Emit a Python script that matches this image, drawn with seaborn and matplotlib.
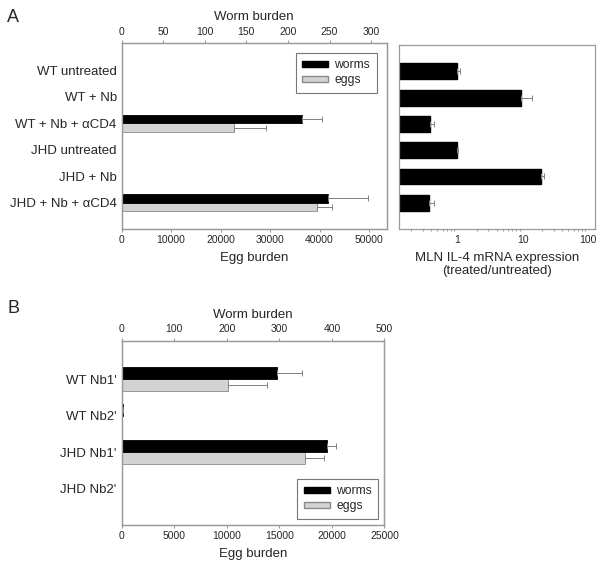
import numpy as np
import pandas as pd
import matplotlib
matplotlib.use("Agg")
import matplotlib.pyplot as plt
import seaborn as sns

# panel A data
groups_a = ["WT untreated", "WT + Nb", "WT + Nb + \u03b1CD4",
            "JHD untreated", "JHD + Nb", "JHD + Nb + \u03b1CD4"]
worms_a = [0, 0, 217, 0, 1, 248]
worms_a_err = [0, 0, 24, 0, 0, 48]
eggs_a = [0, 0, 22750, 0, 0, 39500]
eggs_a_err = [0, 0, 6350, 0, 0, 3000]
il4 = [1.0, 9.5, 0.39, 1.0, 19.2, 0.37]
il4_err = [0.12, 4.2, 0.06, 0.05, 1.9, 0.07]

# panel B data
groups_b = ["WT Nb1'", "WT Nb2'", "JHD Nb1'", "JHD Nb2'"]
worms_b = [296, 2, 391, 0]
worms_b_err = [47, 0, 16, 0]
eggs_b = [10080, 0, 17420, 0]
eggs_b_err = [3750, 0, 1800, 0]

sns.set_theme(style="white")
plt.rcParams["font.family"] = ["Liberation Sans", "DejaVu Sans"]

GRAY = "#9a9a9a"
EGG = "#d3d3d3"
ERR = "#808080"
PAL = {"worms": "black", "eggs": EGG}
ORDER = ["worms", "eggs"]


def style_axis(ax):
    for s in ax.spines.values():
        s.set_color(GRAY)
        s.set_linewidth(0.9)
    ax.tick_params(axis="both", which="both", direction="out", color=GRAY,
                   length=2.5, width=0.8, labelsize=7.5, pad=2)


def burden_panel(ax, groups, worms, worms_err, eggs, eggs_err, egg_max, worm_max,
                 egg_ticks, worm_ticks, legend_loc, legend_anchor):
    n = len(groups)
    # each axis gets both hue levels so the bars dodge; the other series is NaN
    df_e = pd.DataFrame({"group": groups * 2,
                         "value": [np.nan] * n + list(eggs),
                         "series": ["worms"] * n + ["eggs"] * n})
    df_w = pd.DataFrame({"group": groups * 2,
                         "value": list(worms) + [np.nan] * n,
                         "series": ["worms"] * n + ["eggs"] * n})
    axw = ax.twiny()
    sns.barplot(data=df_e, x="value", y="group", hue="series", hue_order=ORDER,
                order=groups, palette=PAL, orient="h", width=0.64, dodge=True,
                edgecolor="#8a8a8a", linewidth=0.6, ax=ax, legend=False, errorbar=None)
    sns.barplot(data=df_w, x="value", y="group", hue="series", hue_order=ORDER,
                order=groups, palette=PAL, orient="h", width=0.64, dodge=True,
                edgecolor="black", linewidth=0.6, ax=axw, legend=False, errorbar=None)
    pos = np.arange(n)
    ax.errorbar(eggs, pos + 0.16, xerr=[np.zeros(n), eggs_err], fmt="none",
                ecolor=ERR, elinewidth=0.7, capsize=2, capthick=0.7)
    axw.errorbar(worms, pos - 0.16, xerr=[np.zeros(n), worms_err], fmt="none",
                 ecolor=ERR, elinewidth=0.7, capsize=2, capthick=0.7)
    ax.set_xlim(0, egg_max)
    axw.set_xlim(0, worm_max)
    ax.set_xticks(egg_ticks)
    axw.set_xticks(worm_ticks)
    ax.set_ylim(n - 1 + 1.0, -1.05)
    axw.set_ylim(n - 1 + 1.0, -1.05)
    ax.set_ylabel("")
    axw.set_ylabel("")
    ax.set_xlabel("Egg burden", fontsize=9.5, labelpad=5)
    axw.set_xlabel("Worm burden", fontsize=9.5, labelpad=5)
    for a in (ax, axw):
        style_axis(a)
    ax.tick_params(axis="y", labelsize=9.5, length=1.5)
    h = [plt.Rectangle((0, 0), 1, 1, fc="black", ec="black"),
         plt.Rectangle((0, 0), 1, 1, fc=EGG, ec="#8a8a8a")]
    leg = axw.legend(h, ["worms", "eggs"], loc=legend_loc, bbox_to_anchor=legend_anchor,
                     fontsize=8.7, frameon=True, fancybox=False, edgecolor="#555555",
                     handlelength=2.15, handleheight=0.45, handletextpad=0.5,
                     borderpad=0.55, labelspacing=0.25, borderaxespad=0)
    leg.get_frame().set_linewidth(0.8)
    return axw


fig = plt.figure(figsize=(6.02, 5.71), dpi=100)
ax_a = fig.add_axes([0.202, 0.599, 0.4407, 0.326])
ax_r = fig.add_axes([0.662, 0.599, 0.326, 0.322])
ax_b = fig.add_axes([0.202, 0.0806, 0.4367, 0.3227])

burden_panel(ax_a, groups_a, worms_a, worms_a_err, eggs_a, eggs_a_err, 53600, 319,
             [0, 10000, 20000, 30000, 40000, 50000], [0, 50, 100, 150, 200, 250, 300],
             "upper right", (1 - 10 / 265, 1 - 10 / 186))
burden_panel(ax_b, groups_b, worms_b, worms_b_err, eggs_b, eggs_b_err, 25000, 500,
             [0, 5000, 10000, 15000, 20000, 25000], [0, 100, 200, 300, 400, 500],
             "lower right", (1 - 6 / 263, 6 / 184))

# IL-4 expression panel
df_il4 = pd.DataFrame({"group": groups_a, "value": il4})
sns.barplot(data=df_il4, x="value", y="group", color="black", orient="h", width=0.6,
            edgecolor="black", ax=ax_r, errorbar=None)
ax_r.errorbar(il4, np.arange(len(il4)), xerr=[np.zeros(len(il4)), il4_err], fmt="none",
              ecolor=ERR, elinewidth=0.7, capsize=2, capthick=0.7)
ax_r.set_xscale("log")
ax_r.set_xlim(0.128, 126)
ax_r.set_ylim(len(il4) - 1 + 1.0, -1.0)
ax_r.set_xticks([1, 10, 100])
ax_r.set_xticklabels(["1", "10", "100"])
ax_r.set_yticklabels([])
ax_r.set_ylabel("")
ax_r.set_xlabel("MLN IL-4 mRNA expression\n(treated/untreated)", fontsize=9.5,
                labelpad=5, linespacing=1.1)
style_axis(ax_r)
ax_r.tick_params(axis="y", length=1.5)
ax_r.tick_params(axis="x", which="minor", length=1.5, bottom=True)

fig.text(0.012, 0.985, "A", fontsize=13, va="top", ha="left")
fig.text(0.012, 0.475, "B", fontsize=13, va="top", ha="left")

fig.savefig("out.png", dpi=100, facecolor="white")
